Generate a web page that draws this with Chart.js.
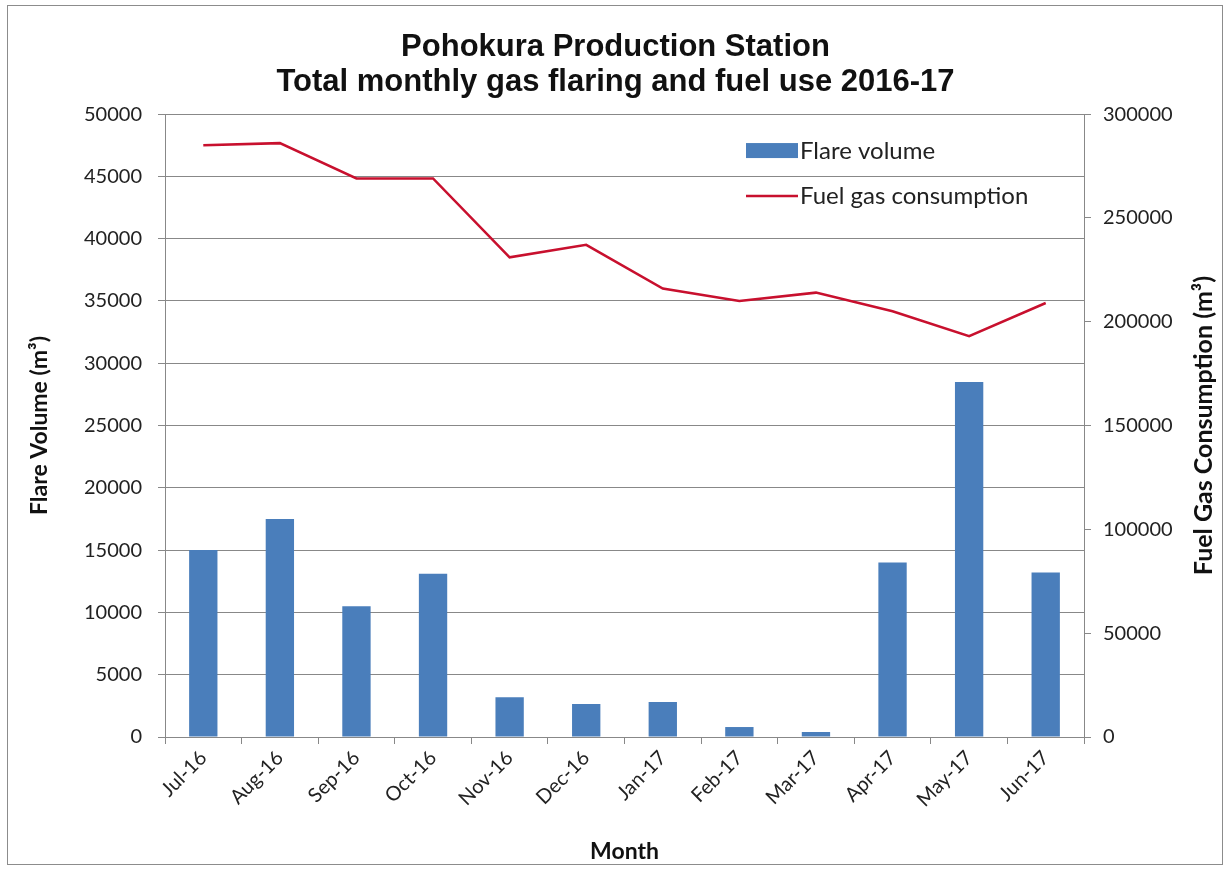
<!DOCTYPE html>
<html>
<head>
<meta charset="utf-8">
<script src="https://cdn.jsdelivr.net/npm/chart.js@4.4.1/dist/chart.umd.min.js"></script>
<style>
  html, body { margin: 0; padding: 0; background: #fff; }
  #wrap { width: 1231px; height: 870px; }
</style>
</head>
<body>
<div id="wrap"><canvas id="myChart" width="1231" height="870"></canvas></div>
<script>
const months = ['Jul-16', 'Aug-16', 'Sep-16', 'Oct-16', 'Nov-16', 'Dec-16', 'Jan-17', 'Feb-17', 'Mar-17', 'Apr-17', 'May-17', 'Jun-17'];
const flareVolume = [15000, 17500, 10500, 13100, 3200, 2650, 2800, 800, 400, 14000, 28500, 13200];
const fuelGas = [285000, 286000, 269000, 269000, 231000, 237000, 216000, 210000, 214000, 205000, 193000, 209000];
const titleLines = ['Pohokura Production Station', 'Total monthly gas flaring and fuel use 2016-17'];
const leftTitle = 'Flare Volume (m³)';
const rightTitle = 'Fuel Gas Consumption (m³)';

const tickFont = { family: 'Lato, "Open Sans", sans-serif', size: 20 };

// frame, axis titles and legend drawn by hand
const extras = {
    id: 'extras',
    beforeDraw(chart) {
        const c = chart.ctx;
        c.save();
        c.fillStyle = '#fff';
        c.fillRect(0, 0, chart.width, chart.height);
        c.strokeStyle = '#8c8c8c';
        c.lineWidth = 1;
        c.strokeRect(7.5, 5.5, 1215, 859);
        c.restore();
    },
    afterDraw(chart) {
        const c = chart.ctx;
        const a = chart.chartArea;
        const midY = (a.top + a.bottom) / 2;
        [[40, leftTitle, 23], [1204, rightTitle, 25]].forEach(function(t){
            c.save();
            c.fillStyle = '#111';
            c.font = 'bold ' + t[2] + 'px Lato, "Open Sans", sans-serif';
            c.textAlign = 'center';
            c.textBaseline = 'middle';
            c.translate(t[0], midY);
            c.rotate(-Math.PI / 2);
            c.fillText(t[1], 0, 0);
            c.restore();
        });

        // legend
        const ds = chart.data.datasets;
        const lx = a.left + 581;
        c.save();
        c.font = '24px Lato, "Open Sans", sans-serif';
        c.textBaseline = 'middle';
        c.fillStyle = ds[0].backgroundColor;
        c.fillRect(lx, a.top + 29, 52, 15);
        c.fillStyle = '#222';
        c.fillText(ds[0].label, lx + 54, a.top + 37);
        c.strokeStyle = ds[1].borderColor;
        c.lineWidth = 2.5;
        c.beginPath();
        c.moveTo(lx, a.top + 82);
        c.lineTo(lx + 52, a.top + 82);
        c.stroke();
        c.fillText(ds[1].label, lx + 54, a.top + 82);
        c.restore();
    }
};

const ctx = document.getElementById('myChart');
const myChart = new Chart(ctx, {
    type: 'bar',
    data: {
        labels: months,
        datasets: [{
            label: 'Flare volume',
            data: flareVolume,
            backgroundColor: '#4a7ebb',
            borderWidth: 0,
            barPercentage: 0.37,
            categoryPercentage: 1,
            yAxisID: 'y',
            order: 2
        }, {
            type: 'line',
            label: 'Fuel gas consumption',
            data: fuelGas,
            borderColor: '#c8102e',
            backgroundColor: '#c8102e',
            borderWidth: 2.5,
            pointRadius: 0,
            tension: 0,
            yAxisID: 'y1',
            order: 1
        }]
    },
    options: {
        responsive: false,
        animation: false,
        layout: {
            padding: { left: 10, right: 10, top: 0, bottom: 5 }
        },
        plugins: {
            legend: { display: false },
            tooltip: { enabled: false },
            title: {
                display: true,
                text: titleLines,
                color: '#111',
                font: { family: '"Liberation Sans", Arial, sans-serif', size: 31, weight: 'bold', lineHeight: 1.13 },
                padding: { top: 30, bottom: 14 }
            }
        },
        scales: {
            x: {
                offset: true,
                grid: { display: true, drawOnChartArea: false, offset: true, tickLength: 7, color: '#888' },
                border: { color: '#888' },
                ticks: { font: tickFont, color: '#222', minRotation: 45, maxRotation: 45, padding: 2 },
                title: { display: true, text: 'Month', color: '#111', font: { family: 'Lato, "Open Sans", sans-serif', size: 23, weight: 'bold' }, padding: { top: 0, bottom: 0 } },
                afterFit(scale) { scale.height = 128; }
            },
            y: {
                position: 'left',
                min: 0,
                max: 50000,
                ticks: { stepSize: 5000, font: tickFont, color: '#222', padding: 16, callback: v => String(v) },
                grid: { color: '#888', tickLength: 7 },
                border: { color: '#888' },
                afterFit(scale) { scale.width = 155; }
            },
            y1: {
                position: 'right',
                min: 0,
                max: 300000,
                ticks: { stepSize: 50000, font: tickFont, color: '#222', padding: 12, callback: v => String(v) },
                grid: { drawOnChartArea: false, color: '#888', tickLength: 7 },
                border: { color: '#888' },
                afterFit(scale) { scale.width = 137; }
            }
        }
    },
    plugins: [extras]
});
</script>
</body>
</html>
